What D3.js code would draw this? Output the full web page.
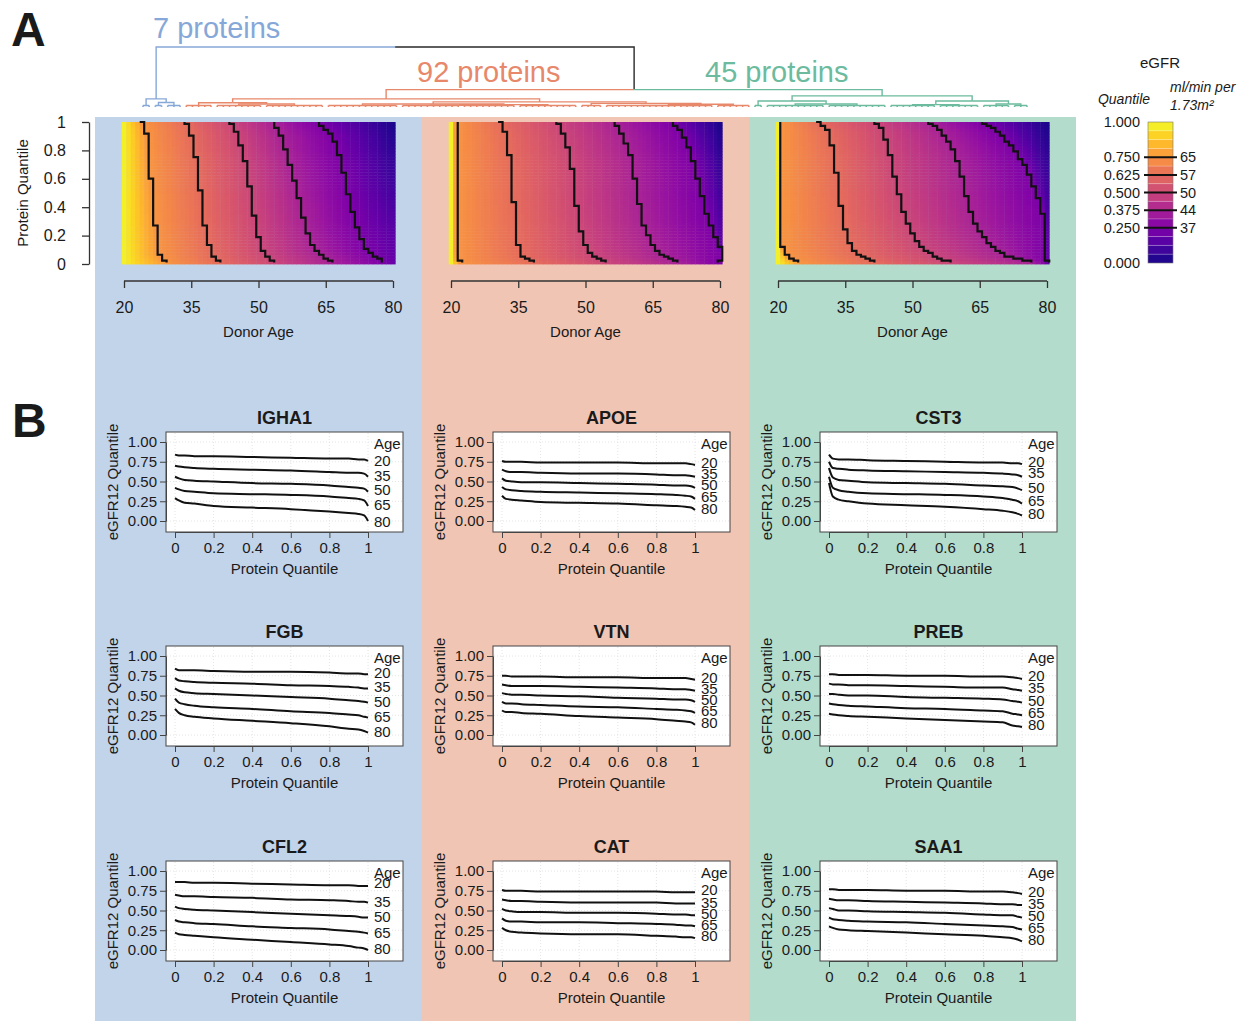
<!DOCTYPE html>
<html>
<head>
<meta charset="utf-8">
<script src="https://cdn.jsdelivr.net/npm/d3@7"></script>
<style>
  body { margin: 0; background: #fff; }
  svg text { font-family: "Liberation Sans", Arial, Helvetica, sans-serif; fill: #1a1a1a; }
</style>
</head>
<body>
<div id="chart"></div>
<script>
// ---------- data ----------
const clusterLabels = ['7 proteins', '92 proteins', '45 proteins']
const clusterColors = ['#86a8d8', '#e8886b', '#6cbb9e']
const panelColors = ['#c2d4ea', '#f0c5b3', '#b3dccd']

// dendrogram: [height, left, right]; a plain number = tight group of that many leaves
const blueTree = [0.27, 2, [0.15, 2, 3]]
const salmonTree = [0.27,
  [0.14, 5, [0.1, 8, 10]],
  [0.17, [0.1, 12, [0.08, [0.06, 10, 9], 10]], [0.12, 4, [0.09, [0.05, 12, 6], 6]]]]
const greenTree = [0.37, [0.2, 2, [0.1, 10, 10]], [0.2, [0.08, 8, 7], [0.1, 5, 3]]]
const rootHeight = 2.0
const mergeHeight = 0.58

// panel A
const ageTicks = [20, 35, 50, 65, 80]
const proteinQTicks = [0, 0.2, 0.4, 0.6, 0.8, 1]
const contourLevels = [0.75, 0.625, 0.5, 0.375, 0.25]
const rightEdge = [[1, 0.02], [0, 0.2]] // eGFR quantile at age 80, by protein quantile
const leftEdgeValue = 0.98

// contour lines as [protein quantile, donor age]
const contours7 = [
  [[1, 23.9], [0.96, 24.7], [0.87, 25.2], [0.6, 26], [0.26, 27], [0.07, 27.7], [0.04, 28.4], [0.01, 29.5]],
  [[1, 33.6], [0.94, 34.7], [0.78, 35.8], [0.61, 36.7], [0.33, 37.6], [0.15, 38.7], [0.05, 39.8], [0.01, 41.5]],
  [[1, 43.6], [0.9, 45.4], [0.69, 47.3], [0.38, 48.7], [0.19, 49.9], [0.08, 51], [0.01, 53.3]],
  [[1, 53.3], [0.87, 55.4], [0.66, 57.3], [0.45, 59.1], [0.24, 60.6], [0.1, 62.4], [0.01, 66.1]],
  [[1, 63], [0.9, 66.5], [0.69, 68.7], [0.45, 70.2], [0.24, 72.1], [0.1, 73.9], [0.01, 77.6]]
]
const contours92 = [
  [[1, 21.1], [0.1, 21.1], [0.03, 21.3], [0.01, 22]],
  [[1, 30.9], [0.91, 32.3], [0.71, 33.2], [0.4, 34.1], [0.13, 35], [0.05, 35.9], [0.01, 38.9]],
  [[1, 43.6], [0.88, 45.4], [0.72, 46.8], [0.37, 48.1], [0.15, 49.5], [0.06, 51.3], [0.01, 54.5]],
  [[1, 56.3], [0.88, 58.6], [0.72, 60.4], [0.46, 61.7], [0.25, 63.1], [0.13, 64.9], [0.06, 66.7], [0.01, 70.4]],
  [[1, 69], [0.91, 71.7], [0.77, 73.6], [0.55, 75.4], [0.32, 77.2], [0.18, 79], [0.11, 80], [0.01, 80]]
]
const contours45 = [
  [[1, 20.8], [0.13, 20.8], [0.08, 21.6], [0.04, 22.5], [0.01, 24.7]],
  [[1, 28.8], [0.93, 31.1], [0.77, 32.5], [0.53, 33.4], [0.34, 34.3], [0.2, 35.2], [0.08, 37], [0.04, 38.9], [0.01, 41.6]],
  [[1, 41.6], [0.93, 43.4], [0.79, 44.8], [0.6, 46.1], [0.37, 47.9], [0.22, 49.7], [0.11, 52], [0.04, 55.2], [0.01, 58.4]],
  [[1, 53.4], [0.93, 56.2], [0.81, 58.9], [0.65, 60.7], [0.41, 62.5], [0.25, 64.3], [0.13, 67.1], [0.05, 70.7], [0.01, 76.2]],
  [[1, 65.2], [0.93, 68.9], [0.81, 72.5], [0.67, 75.3], [0.53, 77.1], [0.37, 78.9], [0.18, 79.8], [0.01, 80]]
]

// legend
const legendBreaks = [1, 0.75, 0.625, 0.5, 0.375, 0.25, 0]
const legendLines = [0.75, 0.625, 0.5, 0.375, 0.25]
const legendEgfr = [65, 57, 50, 44, 37]
const legendBands = 16

// panel B: eGFR12 quantile curves by age, at these protein quantiles
const curveAges = [20, 35, 50, 65, 80]
const curveX = [0, 0.02, 0.05, 0.1, 0.2, 0.4, 0.6, 0.8, 0.9, 0.95, 0.98, 1]
const yTicks = [0, 0.25, 0.5, 0.75, 1]

const IGHA1 = [
  [0.84, 0.83, 0.83, 0.82, 0.82, 0.81, 0.80, 0.79, 0.79, 0.78, 0.78, 0.76],
  [0.70, 0.69, 0.68, 0.67, 0.66, 0.65, 0.64, 0.62, 0.61, 0.61, 0.60, 0.56],
  [0.56, 0.54, 0.52, 0.51, 0.50, 0.48, 0.47, 0.45, 0.43, 0.42, 0.41, 0.37],
  [0.42, 0.40, 0.38, 0.37, 0.35, 0.34, 0.33, 0.31, 0.29, 0.28, 0.26, 0.19],
  [0.29, 0.26, 0.23, 0.22, 0.19, 0.17, 0.15, 0.12, 0.10, 0.09, 0.07, 0.00]
]
const FGB = [
  [0.84, 0.82, 0.82, 0.82, 0.81, 0.80, 0.80, 0.79, 0.78, 0.78, 0.77, 0.77],
  [0.72, 0.69, 0.68, 0.67, 0.66, 0.65, 0.63, 0.62, 0.61, 0.60, 0.59, 0.59],
  [0.59, 0.56, 0.54, 0.53, 0.52, 0.50, 0.48, 0.46, 0.44, 0.43, 0.42, 0.41],
  [0.46, 0.41, 0.39, 0.37, 0.35, 0.33, 0.30, 0.28, 0.26, 0.25, 0.23, 0.22],
  [0.33, 0.28, 0.25, 0.23, 0.21, 0.18, 0.15, 0.11, 0.08, 0.07, 0.05, 0.03]
]
const CFL2 = [
  [0.86, 0.86, 0.86, 0.85, 0.85, 0.84, 0.83, 0.82, 0.82, 0.81, 0.81, 0.81],
  [0.70, 0.69, 0.68, 0.68, 0.67, 0.66, 0.64, 0.63, 0.62, 0.61, 0.61, 0.60],
  [0.55, 0.53, 0.52, 0.51, 0.50, 0.48, 0.46, 0.44, 0.43, 0.42, 0.41, 0.41],
  [0.38, 0.36, 0.35, 0.34, 0.33, 0.30, 0.28, 0.26, 0.24, 0.23, 0.22, 0.21],
  [0.22, 0.20, 0.19, 0.18, 0.16, 0.13, 0.10, 0.07, 0.05, 0.03, 0.02, 0.00]
]
const APOE = [
  [0.76, 0.75, 0.75, 0.75, 0.74, 0.74, 0.74, 0.73, 0.73, 0.73, 0.72, 0.71],
  [0.65, 0.63, 0.62, 0.62, 0.61, 0.60, 0.60, 0.59, 0.58, 0.58, 0.57, 0.56],
  [0.54, 0.51, 0.50, 0.49, 0.49, 0.48, 0.47, 0.46, 0.45, 0.45, 0.44, 0.42],
  [0.43, 0.40, 0.39, 0.38, 0.37, 0.36, 0.35, 0.34, 0.33, 0.32, 0.31, 0.28],
  [0.32, 0.28, 0.27, 0.26, 0.24, 0.23, 0.22, 0.20, 0.19, 0.18, 0.17, 0.14]
]
const VTN = [
  [0.75, 0.75, 0.74, 0.74, 0.74, 0.73, 0.73, 0.72, 0.72, 0.72, 0.71, 0.70],
  [0.64, 0.63, 0.62, 0.62, 0.62, 0.61, 0.60, 0.59, 0.58, 0.58, 0.57, 0.56],
  [0.53, 0.52, 0.51, 0.51, 0.50, 0.49, 0.47, 0.46, 0.45, 0.45, 0.44, 0.42],
  [0.42, 0.40, 0.40, 0.39, 0.38, 0.36, 0.35, 0.33, 0.32, 0.31, 0.30, 0.28],
  [0.31, 0.29, 0.29, 0.28, 0.27, 0.24, 0.22, 0.20, 0.18, 0.17, 0.16, 0.13]
]
const CAT = [
  [0.76, 0.75, 0.75, 0.75, 0.74, 0.74, 0.74, 0.74, 0.73, 0.73, 0.73, 0.73],
  [0.64, 0.63, 0.62, 0.62, 0.61, 0.60, 0.60, 0.60, 0.59, 0.59, 0.59, 0.59],
  [0.52, 0.50, 0.49, 0.48, 0.48, 0.47, 0.47, 0.46, 0.45, 0.45, 0.44, 0.44],
  [0.40, 0.37, 0.36, 0.36, 0.35, 0.35, 0.34, 0.33, 0.32, 0.31, 0.31, 0.30],
  [0.28, 0.25, 0.23, 0.22, 0.21, 0.20, 0.20, 0.18, 0.17, 0.16, 0.16, 0.15]
]
const CST3 = [
  [0.84, 0.79, 0.78, 0.78, 0.77, 0.76, 0.75, 0.74, 0.74, 0.73, 0.73, 0.72],
  [0.75, 0.67, 0.66, 0.65, 0.64, 0.63, 0.62, 0.61, 0.60, 0.59, 0.58, 0.56],
  [0.67, 0.55, 0.52, 0.51, 0.49, 0.48, 0.47, 0.45, 0.44, 0.43, 0.41, 0.39],
  [0.56, 0.42, 0.39, 0.37, 0.35, 0.34, 0.33, 0.31, 0.29, 0.27, 0.25, 0.22],
  [0.48, 0.31, 0.27, 0.25, 0.22, 0.20, 0.18, 0.15, 0.13, 0.11, 0.09, 0.07]
]
const PREB = [
  [0.77, 0.77, 0.76, 0.76, 0.76, 0.75, 0.75, 0.74, 0.74, 0.73, 0.72, 0.71],
  [0.65, 0.64, 0.64, 0.63, 0.63, 0.62, 0.61, 0.60, 0.60, 0.58, 0.57, 0.56],
  [0.52, 0.52, 0.51, 0.50, 0.50, 0.48, 0.47, 0.46, 0.45, 0.43, 0.42, 0.41],
  [0.40, 0.39, 0.38, 0.37, 0.36, 0.34, 0.33, 0.31, 0.30, 0.27, 0.26, 0.25],
  [0.27, 0.26, 0.25, 0.24, 0.23, 0.21, 0.19, 0.17, 0.16, 0.12, 0.11, 0.10]
]
const SAA1 = [
  [0.77, 0.77, 0.76, 0.76, 0.76, 0.75, 0.75, 0.74, 0.74, 0.73, 0.72, 0.71],
  [0.65, 0.64, 0.63, 0.63, 0.62, 0.61, 0.60, 0.59, 0.58, 0.58, 0.57, 0.57],
  [0.53, 0.52, 0.50, 0.50, 0.49, 0.48, 0.47, 0.45, 0.44, 0.44, 0.42, 0.41],
  [0.41, 0.39, 0.38, 0.37, 0.36, 0.35, 0.33, 0.31, 0.30, 0.29, 0.27, 0.26],
  [0.30, 0.28, 0.26, 0.25, 0.24, 0.22, 0.20, 0.18, 0.16, 0.15, 0.13, 0.11]
]

// where the age labels sit (eGFR12 quantile units)
const ageLabelPos = {
  IGHA1: [0.77, 0.58, 0.40, 0.21, 0.0],
  FGB: [0.79, 0.61, 0.42, 0.24, 0.04],
  CFL2: [0.85, 0.62, 0.42, 0.22, 0.02],
  APOE: [0.74, 0.60, 0.46, 0.31, 0.16],
  VTN: [0.73, 0.59, 0.45, 0.31, 0.16],
  CAT: [0.76, 0.60, 0.46, 0.32, 0.18],
  CST3: [0.75, 0.61, 0.43, 0.26, 0.09],
  PREB: [0.75, 0.60, 0.44, 0.29, 0.13],
  SAA1: [0.74, 0.59, 0.44, 0.28, 0.13]
}
const proteinCurves = {IGHA1, FGB, CFL2, APOE, VTN, CAT, CST3, PREB, SAA1}
const proteinGrid = [['IGHA1', 'FGB', 'CFL2'], ['APOE', 'VTN', 'CAT'], ['CST3', 'PREB', 'SAA1']]

// ---------- layout ----------
const W = 1243, H = 1021
const colX = [95, 422, 749]
const colW = 327
const rowTop = [432, 646, 861]

const svg = d3.select('#chart').append('svg').attr('width', W).attr('height', H)

svg.selectAll('rect.bg').data(panelColors).enter().append('rect')
  .attr('x', (d, i) => colX[i]).attr('y', 117)
  .attr('width', colW).attr('height', H - 117)
  .attr('fill', d => d)

svg.append('text').attr('x', 11).attr('y', 46).attr('font-size', 48).attr('font-weight', 'bold').text('A')
svg.append('text').attr('x', 12).attr('y', 437).attr('font-size', 48).attr('font-weight', 'bold').text('B')

// ---------- dendrogram ----------
function build(t, group) {
  if (typeof t === 'number') return {n: t, group}
  return {h: t[0], children: [build(t[1], group), build(t[2], group)]}
}
const treeData = {h: rootHeight, children: [
  build(blueTree, 0),
  {h: mergeHeight, children: [build(salmonTree, 1), build(greenTree, 2)]}
]}
const root = d3.hierarchy(treeData)
const nLeaves = d3.sum(root.leaves(), d => d.data.n)
const leafX = d3.scaleLinear().domain([0, nLeaves - 1]).range([143, 1027])
const dendY = d3.scaleLinear().domain([0, rootHeight]).range([107, 47])
const fringeH = 0.05

let cursor = 0
root.leaves().forEach(l => {
  l.start = cursor
  cursor += l.data.n
  l.x = leafX(l.start + (l.data.n - 1) / 2)
  l.h = fringeH
  l.group = l.data.group
})
root.eachAfter(d => {
  if (!d.children) return
  d.x = d3.mean(d.children, c => c.x)
  d.h = d.data.h
  const g = d.children[0].group
  d.group = d.children.every(c => c.group === g) ? g : null
})
const dendColor = g => (g == null ? '#2a2a2a' : clusterColors[g])

const dend = svg.append('g').attr('fill', 'none').attr('stroke-width', 1.4)
dend.selectAll('path.link')
  .data(root.descendants().filter(d => d.parent))
  .enter().append('path')
  .attr('d', d => `M${d.x},${dendY(d.h)}V${dendY(d.parent.h)}H${d.parent.x}`)
  .attr('stroke', d => dendColor(d.group))

dend.selectAll('path.fringe')
  .data(root.leaves())
  .enter().append('path')
  .attr('d', l => {
    let p = `M${leafX(l.start)},${dendY(fringeH)}H${leafX(l.start + l.data.n - 1)}`
    d3.range(l.data.n).forEach(k => {
      p += `M${leafX(l.start + k)},${dendY(0)}V${dendY(fringeH)}`
    })
    return p
  })
  .attr('stroke', l => dendColor(l.group))
  .attr('stroke-width', 1.6)

const clusterLabelPos = [[153, 38], [417, 82], [705, 82]]
svg.selectAll('text.cluster').data(clusterLabels).enter().append('text')
  .attr('x', (d, i) => clusterLabelPos[i][0])
  .attr('y', (d, i) => clusterLabelPos[i][1])
  .attr('font-size', 29)
  .style('fill', (d, i) => clusterColors[i])
  .text(d => d)

// ---------- heatmaps ----------
const contourSets = [contours7, contours92, contours45]
const nRows = 48
const edgeScale = d3.scaleLinear().domain(rightEdge.map(d => d[0])).range(rightEdge.map(d => d[1]))

function ageAtQ(c, q) {
  return d3.scaleLinear().domain(c.map(d => d[0])).range(c.map(d => d[1])).clamp(true)(q)
}
function valueAt(contours, age, q) {
  const dom = [20], rng = [leftEdgeValue]
  contours.forEach((c, i) => {
    const a = ageAtQ(c, q)
    if (a > dom[dom.length - 1] + 1e-6) { dom.push(a); rng.push(contourLevels[i]) }
  })
  if (80 > dom[dom.length - 1] + 1e-6) { dom.push(80); rng.push(edgeScale(q)) }
  return d3.scaleLinear().domain(dom).range(rng).clamp(true)(age)
}

const ages = d3.range(20, 81)
contourSets.forEach((contours, i) => {
  const x0 = colX[i]
  const ageX = d3.scaleLinear().domain([20, 80]).range([x0 + 29, x0 + 298])
  const qY = d3.scaleLinear().domain([0, 1]).range([264, 122])
  const g = svg.append('g')

  const cells = []
  ages.forEach(a => d3.range(nRows).forEach(r => {
    const q = (r + 0.5) / nRows
    cells.push({a, r, v: valueAt(contours, a, q)})
  }))
  g.selectAll('rect').data(cells).enter().append('rect')
    .attr('x', d => ageX(d.a - 0.5))
    .attr('y', d => qY((d.r + 1) / nRows))
    .attr('width', ageX(21) - ageX(20) + 0.4)
    .attr('height', qY(0) - qY(1 / nRows) + 0.4)
    .attr('fill', d => d3.interpolatePlasma(d.v))

  // stepped contour lines (snapped to the age columns)
  const line = d3.line().curve(d3.curveStepAfter)
  g.selectAll('path.contour').data(contours).enter().append('path')
    .attr('fill', 'none').attr('stroke', '#111').attr('stroke-width', 2.2)
    .attr('d', c => {
      const qMin = d3.min(c, d => d[0])
      const pts = d3.range(0, 73).map(k => {
        const q = 1 - (1 - qMin) * k / 72
        const a = Math.min(80.5, Math.max(19.5, Math.round(ageAtQ(c, q) - 0.5) + 0.5))
        return [ageX(a), qY(q)]
      })
      return line(pts)
    })

  const xAxis = g.append('g').attr('transform', 'translate(0,281)')
    .call(d3.axisBottom(ageX).tickValues(ageTicks).tickSize(7).tickSizeOuter(0).tickPadding(14))
  xAxis.selectAll('text').attr('font-size', 16).style('fill', '#1a1a1a')
  xAxis.selectAll('line,path').attr('stroke', '#333').attr('stroke-width', 1.3)
  xAxis.select('.domain').attr('d', `M${ageX(20)},0H${ageX(80)}`)

  g.append('text').attr('x', ageX(50)).attr('y', 337).attr('text-anchor', 'middle')
    .attr('font-size', 15).text('Donor Age')

  if (i === 0) {
    const yAxis = g.append('g').attr('transform', 'translate(89,0)')
      .call(d3.axisLeft(qY).tickValues(proteinQTicks).tickFormat(d => String(d))
        .tickSize(7).tickSizeOuter(0).tickPadding(16))
    yAxis.selectAll('text').attr('font-size', 16).style('fill', '#1a1a1a')
    yAxis.selectAll('line,path').attr('stroke', '#333').attr('stroke-width', 1.3)
    g.append('text').attr('transform', 'translate(22,193) rotate(-90)')
      .attr('text-anchor', 'middle').attr('dominant-baseline', 'central')
      .attr('font-size', 15).text('Protein Quantile')
  }
})

// ---------- legend ----------
const legY = d3.scaleLinear().domain([0, 1]).range([263, 122])
const leg = svg.append('g')
leg.selectAll('rect').data(d3.range(legendBands)).enter().append('rect')
  .attr('x', 1148).attr('width', 25)
  .attr('y', k => legY((k + 1) / legendBands))
  .attr('height', legY(0) - legY(1 / legendBands))
  .attr('fill', k => d3.interpolatePlasma((k + 0.5) / legendBands))
leg.selectAll('line.sep').data(d3.range(1, legendBands)).enter().append('line')
  .attr('x1', 1148).attr('x2', 1173)
  .attr('y1', k => legY(k / legendBands)).attr('y2', k => legY(k / legendBands))
  .attr('stroke', '#fff').attr('stroke-opacity', 0.3).attr('stroke-width', 0.8)
leg.append('rect').attr('x', 1148).attr('y', legY(1)).attr('width', 25)
  .attr('height', legY(0) - legY(1)).attr('fill', 'none').attr('stroke', '#777').attr('stroke-width', 0.6)
leg.selectAll('line.brk').data(legendLines).enter().append('line')
  .attr('x1', 1144).attr('x2', 1177)
  .attr('y1', d => legY(d)).attr('y2', d => legY(d))
  .attr('stroke', '#111').attr('stroke-width', 2)
leg.selectAll('text.q').data(legendBreaks).enter().append('text')
  .attr('x', 1140).attr('y', d => legY(d)).attr('text-anchor', 'end')
  .attr('dominant-baseline', 'central').attr('font-size', 14.5)
  .text(d => d3.format('.3f')(d))
leg.selectAll('text.e').data(legendEgfr).enter().append('text')
  .attr('x', 1180).attr('y', (d, k) => legY(legendLines[k]))
  .attr('dominant-baseline', 'central').attr('font-size', 14.5)
  .text(d => d)
leg.append('text').attr('x', 1160).attr('y', 68).attr('text-anchor', 'middle').attr('font-size', 15).text('eGFR')
leg.append('text').attr('x', 1124).attr('y', 104).attr('text-anchor', 'middle')
  .attr('font-size', 14).attr('font-style', 'italic').text('Quantile')
leg.append('text').attr('x', 1170).attr('y', 92).attr('font-size', 14).attr('font-style', 'italic').text('ml/min per')
leg.append('text').attr('x', 1170).attr('y', 110).attr('font-size', 14).attr('font-style', 'italic').text('1.73m²')

// ---------- panel B small multiples ----------
proteinGrid.forEach((col, ci) => col.forEach((name, ri) => {
  const bx = colX[ci] + 71, by = rowTop[ri]
  const bw = 237, bh = 100
  const x = d3.scaleLinear().domain([0, 1]).range([bx + 9, bx + 202])
  const y = d3.scaleLinear().domain([0, 1]).range([by + 89, by + 10])
  const g = svg.append('g')

  g.append('rect').attr('x', bx).attr('y', by).attr('width', bw).attr('height', bh)
    .attr('fill', '#fff').attr('stroke', '#444').attr('stroke-width', 1)

  g.selectAll('line.gx').data(proteinQTicks).enter().append('line')
    .attr('x1', d => x(d)).attr('x2', d => x(d)).attr('y1', by + 1).attr('y2', by + bh - 1)
    .attr('stroke', '#e4e4e4').attr('stroke-dasharray', '1,2')
  g.selectAll('line.gy').data(yTicks).enter().append('line')
    .attr('x1', bx + 1).attr('x2', bx + bw - 1).attr('y1', d => y(d)).attr('y2', d => y(d))
    .attr('stroke', '#e4e4e4').attr('stroke-dasharray', '1,2')

  const line = d3.line().x((d, k) => x(curveX[k])).y(d => y(d)).curve(d3.curveMonotoneX)
  g.selectAll('path.curve').data(proteinCurves[name]).enter().append('path')
    .attr('d', line).attr('fill', 'none').attr('stroke', '#111').attr('stroke-width', 2)

  const ya = g.append('g').attr('transform', `translate(${bx},0)`)
    .call(d3.axisLeft(y).tickValues(yTicks).tickFormat(d3.format('.2f')).tickSize(6).tickSizeOuter(0).tickPadding(3))
  ya.selectAll('text').attr('font-size', 15).style('fill', '#1a1a1a')
  ya.selectAll('line,path').attr('stroke', '#444')

  const xa = g.append('g').attr('transform', `translate(0,${by + bh})`)
    .call(d3.axisBottom(x).tickValues(proteinQTicks).tickFormat(d => String(d)).tickSize(6).tickSizeOuter(0).tickPadding(4))
  xa.selectAll('text').attr('font-size', 15).style('fill', '#1a1a1a')
  xa.selectAll('line,path').attr('stroke', '#444')

  g.append('text').attr('x', x(1) + 6).attr('y', y(0.975)).attr('dominant-baseline', 'central')
    .attr('font-size', 15).text('Age')
  g.selectAll('text.age').data(curveAges).enter().append('text')
    .attr('x', x(1) + 6).attr('y', (d, k) => y(ageLabelPos[name][k]))
    .attr('dominant-baseline', 'central').attr('font-size', 15)
    .text(d => d)

  g.append('text').attr('x', bx + bw / 2).attr('y', by - 8).attr('text-anchor', 'middle')
    .attr('font-size', 18).attr('font-weight', 'bold').text(name)
  g.append('text').attr('x', bx + bw / 2).attr('y', by + 142).attr('text-anchor', 'middle')
    .attr('font-size', 15).text('Protein Quantile')
  g.append('text').attr('transform', `translate(${bx - 54},${by + 50}) rotate(-90)`)
    .attr('text-anchor', 'middle').attr('dominant-baseline', 'central')
    .attr('font-size', 15).text('eGFR12 Quantile')
}))
</script>
</body>
</html>
